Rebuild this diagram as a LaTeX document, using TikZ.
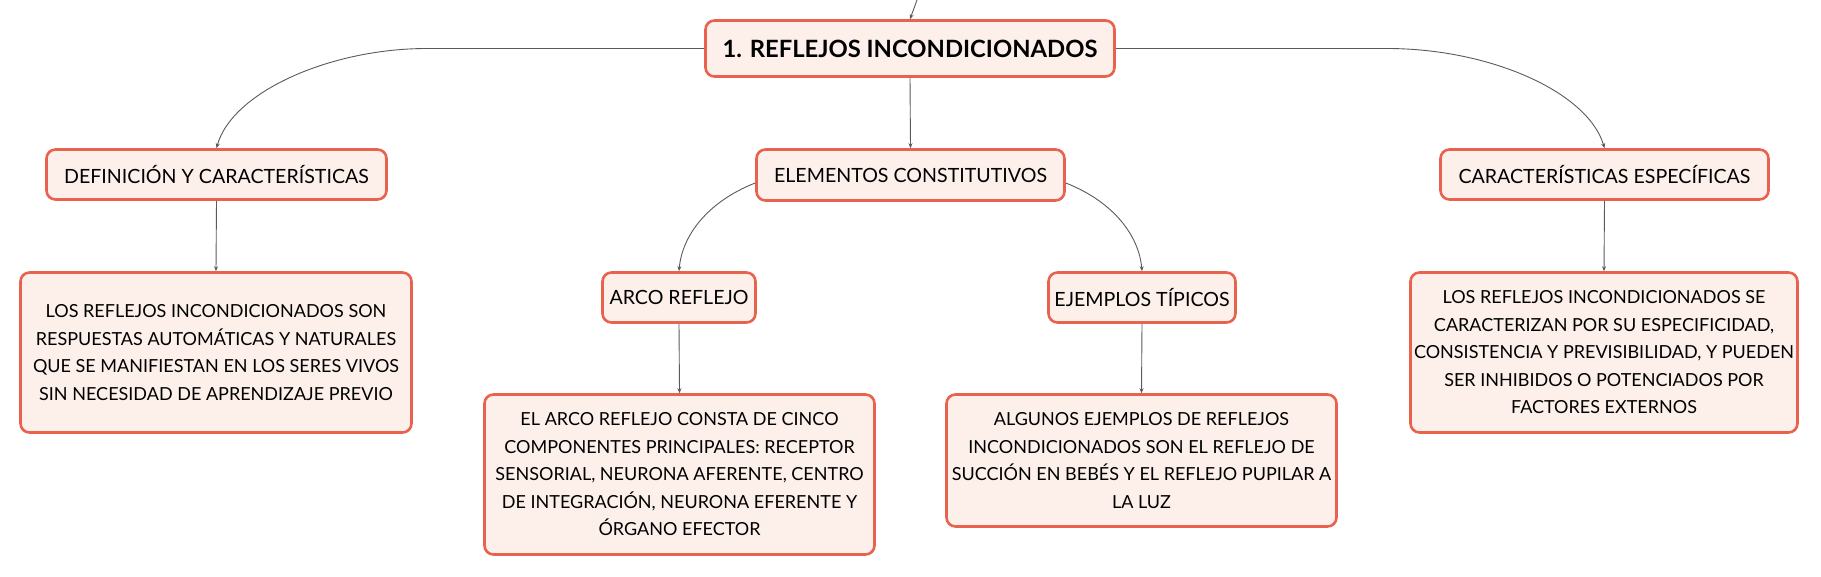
\documentclass[tikz,border=0pt]{standalone}
\usepackage{fontspec}
\setmainfont{Lato}
\usetikzlibrary{arrows.meta,calc}
\definecolor{boxline}{RGB}{232,98,78}
\definecolor{boxfill}{RGB}{253,240,235}
\definecolor{conncol}{RGB}{90,90,90}
\tikzset{
  box/.style={draw=boxline, fill=boxfill, line width=2.6pt, rounded corners=9pt,
    inner sep=0pt, align=center, text=black, font=\fontsize{18}{27.5}\selectfont},
  headbox/.style={box, font=\fontsize{19.6}{24}\selectfont},
  rootbox/.style={box, font=\fontsize{23.8}{28}\selectfont\bfseries},
  conn/.style={draw=conncol, line width=0.9pt, -{Stealth[length=5pt,width=4pt]}}
}
\begin{document}
\begin{tikzpicture}[x=1pt,y=-1pt]
\useasboundingbox (0,0) rectangle (1821,577);
\node[rootbox, minimum width=409, minimum height=56] (root) at (910,48.5) {1. REFLEJOS INCONDICIONADOS};
\node[headbox, minimum width=340, minimum height=50] (def) at (216.5,174.5) {DEFINICIÓN Y CARACTERÍSTICAS};
\node[headbox, minimum width=308, minimum height=51] (elem) at (910.5,175) {ELEMENTOS CONSTITUTIVOS};
\node[headbox, minimum width=328, minimum height=50] (car) at (1604.5,174.5) {CARACTERÍSTICAS ESPECÍFICAS};
\node[box, minimum width=391, minimum height=160] (deftext) at (216,352.5) {LOS REFLEJOS INCONDICIONADOS SON\\RESPUESTAS AUTOMÁTICAS Y NATURALES\\QUE SE MANIFIESTAN EN LOS SERES VIVOS\\SIN NECESIDAD DE APRENDIZAJE PREVIO};
\node[headbox, minimum width=153, minimum height=50] (arco) at (679,297.5) {ARCO REFLEJO};
\node[headbox, minimum width=187, minimum height=50] (ej) at (1142,297.5) {EJEMPLOS TÍPICOS};
\node[box, minimum width=387, minimum height=160] (cartext) at (1604,352.5) {LOS REFLEJOS INCONDICIONADOS SE\\CARACTERIZAN POR SU ESPECIFICIDAD,\\CONSISTENCIA Y PREVISIBILIDAD, Y PUEDEN\\SER INHIBIDOS O POTENCIADOS POR\\FACTORES EXTERNOS};
\node[box, minimum width=390, minimum height=160] (arcotext) at (679.5,474.5) {EL ARCO REFLEJO CONSTA DE CINCO\\COMPONENTES PRINCIPALES: RECEPTOR\\SENSORIAL, NEURONA AFERENTE, CENTRO\\DE INTEGRACIÓN, NEURONA EFERENTE Y\\ÓRGANO EFECTOR};
\node[box, minimum width=390, minimum height=132] (ejtext) at (1141.5,460.5) {ALGUNOS EJEMPLOS DE REFLEJOS\\INCONDICIONADOS SON EL REFLEJO DE\\SUCCIÓN EN BEBÉS Y EL REFLEJO PUPILAR A\\LA LUZ};
% connectors
\coordinate (parent) at (917,0);
\coordinate (lbend) at (427,48.5);
\coordinate (rbend) at (1387,48.5);
\draw[conn] (parent) -- (root.north);
\draw[conn] (root.west) -- (lbend) .. controls (330,48.5) and (232,92) .. (def.north);
\draw[conn] (root.east) -- (rbend) .. controls (1490,48.5) and (1588,92) .. (car.north);
\draw[conn] (root.south) -- (elem.north);
\draw[conn] ($(elem.west)+(0,8)$) .. controls (707,202) and (682,236) .. (arco.north);
\draw[conn] ($(elem.east)+(0,8)$) .. controls (1114,202) and (1139,236) .. (ej.north);
\draw[conn] (def.south) -- (deftext.north);
\draw[conn] (car.south) -- (cartext.north);
\draw[conn] (arco.south) -- (arcotext.north);
\draw[conn] (ej.south) -- (ejtext.north);
\end{tikzpicture}
\end{document}
